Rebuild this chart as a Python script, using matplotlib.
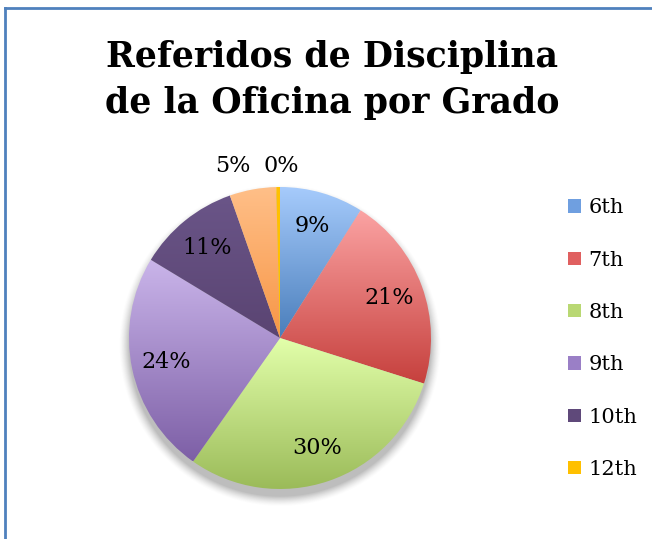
import matplotlib
matplotlib.use("Agg")
import matplotlib.pyplot as plt
import numpy as np
from matplotlib.patches import Patch
from matplotlib.lines import Line2D
from matplotlib.colors import to_rgb

plt.rcParams["font.family"] = "DejaVu Serif"

grades = ["6th", "7th", "8th", "9th", "10th", "11th", "12th"]
shares = [9, 21, 30, 24, 11, 5, 0.4]
legend_grades = ["6th", "7th", "8th", "9th", "10th", "12th"]
title = "Referidos de Disciplina\nde la Oficina por Grado"

# gradient (top, bottom) per slice, roughly like the Excel fills
top_cols = ["#a6cbfc", "#fba3a3", "#e2ffaa", "#cab5ea", "#6a5588", "#ffbf88", "#ffc000"]
bot_cols = ["#4a7ebb", "#c6403d", "#9bbb59", "#7d5fa6", "#5a4472", "#f79646", "#ffc000"]
mid_cols = ["#6f9fe0", "#e06060", "#b9d873", "#9a7fc6", "#5f497a", "#f9a060", "#ffc000"]

fig = plt.figure(figsize=(6.52, 5.39), dpi=100)
fig.patch.set_facecolor("white")

# frame of the chart box (right and bottom are cropped in the original)
fig.add_artist(Line2D([5/652, 5/652], [0, 1 - 8/539], color="#4f81bd", lw=2))
fig.add_artist(Line2D([5/652, 1], [1 - 8/539, 1 - 8/539], color="#4f81bd", lw=2))

R = 151.0
half = 200.0 / R
ax = fig.add_axes([80/652, 1/539, 400/652, 400/539])
ax.set_xlim(-half, half)
ax.set_ylim(-half, half)
ax.axis("off")

# soft shadow under the pie
n = 400
xs = np.linspace(-half, half, n)
X, Y = np.meshgrid(xs, xs)
d = np.hypot(X, Y + 0.05)
a = np.clip(1 - (d - 1.0) / 0.07, 0, 1) ** 1.5 * 0.4
shadow = np.zeros((n, n, 4))
shadow[..., :3] = 0.35
shadow[..., 3] = a
ax.imshow(shadow, extent=[-half, half, -half, half], origin="lower", zorder=0)

wedges, texts, autotexts = ax.pie(shares, startangle=90, counterclock=False,
                                  colors=mid_cols, radius=1,
                                  autopct=lambda p: "%d%%" % round(p),
                                  pctdistance=0.77,
                                  textprops=dict(fontsize=16, color="black"))

for i, w in enumerate(wedges):
    t1, t2 = np.radians(w.theta1), np.radians(w.theta2)
    th = np.linspace(t1, t2, 100)
    ys = np.concatenate([[0], np.sin(th)])
    xs_ = np.concatenate([[0], np.cos(th)])
    y0, y1 = ys.min(), ys.max()
    x0, x1 = xs_.min(), xs_.max()
    c_top = np.array(to_rgb(top_cols[i]))
    c_bot = np.array(to_rgb(bot_cols[i]))
    f = np.linspace(0, 1, 200)[:, None]
    grad = c_bot * (1 - f) + c_top * f
    img = np.repeat(grad[:, None, :], 2, axis=1)
    im = ax.imshow(img, extent=[x0, x1, y0, y1], origin="lower",
                   aspect="auto", zorder=2)
    im.set_clip_path(w)
    w.set_facecolor("none")
    w.set_zorder(3)

for t in autotexts:
    t.set_zorder(5)
# the two small slices have their labels outside, above the pie
autotexts[5].set_position((-0.31, 1.14))
autotexts[6].set_position((0.01, 1.14))

ax.set_xlim(-half, half)
ax.set_ylim(-half, half)

fig.text(332/652, 1 - 80/539, title, ha="center", va="center",
         fontsize=25, fontweight="bold", linespacing=1.42)

idx = [grades.index(g) for g in legend_grades]
handles = [Patch(facecolor=mid_cols[i], edgecolor="none") for i in idx]
fig.legend(handles, legend_grades, loc="upper left",
           bbox_to_anchor=(558/652, 1 - 188/539), frameon=False,
           fontsize=15, handlelength=0.6, handleheight=0.6,
           handletextpad=0.35, labelspacing=1.6, borderpad=0)

fig.savefig("out.png", dpi=100)
